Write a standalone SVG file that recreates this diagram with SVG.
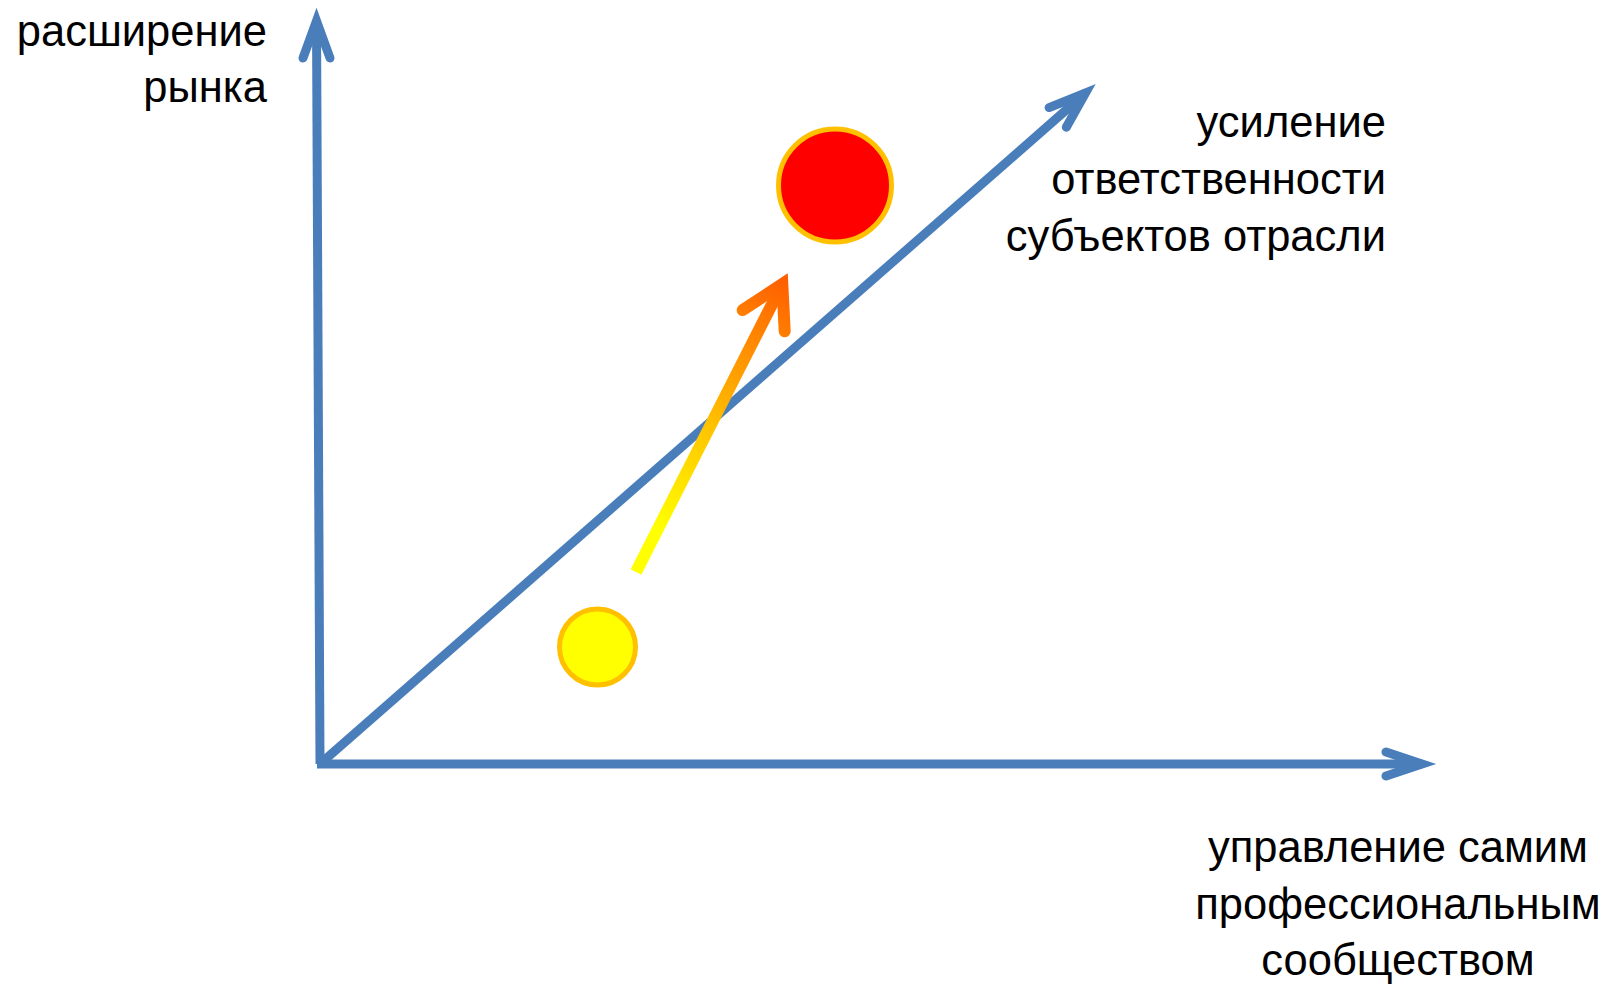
<svg xmlns="http://www.w3.org/2000/svg" width="1610" height="984" viewBox="0 0 1610 984">
<style>
.axis{fill:none;stroke:#4A7EBB;stroke-width:9;stroke-linecap:butt}
.head{fill:none;stroke:#4A7EBB;stroke-width:9;stroke-linecap:round;stroke-linejoin:miter;stroke-miterlimit:6}
.lbl{font-family:"Liberation Sans",Arial,sans-serif;font-size:43.5px;fill:#000}
</style>
<defs>
<linearGradient id="grad" gradientUnits="userSpaceOnUse" x1="636" y1="572" x2="788" y2="273">
<stop offset="0" stop-color="#FFFF00"/>
<stop offset="0.15" stop-color="#FFFF00"/>
<stop offset="0.5" stop-color="#FFC000"/>
<stop offset="1" stop-color="#FF5A00"/>
</linearGradient>
</defs>
<rect width="1610" height="984" fill="#fff"/>
<g id="connectors">
<g id="axis-y">
<path class="axis" d="M320,764 L316.5,21"/>
<path class="head" d="M303,58 L316.5,21 L330,58"/>
</g>
<g id="axis-x">
<path class="axis" d="M317,764 H1422"/>
<path class="head" d="M1386,752 L1422,764 L1386,776"/>
</g>
<g id="axis-diag">
<path class="axis" d="M320,764 L1085.5,93"/>
<path class="head" d="M1049.1,107.6 L1085.5,93 L1066.3,127.2"/>
</g>
<g id="growth-arrow">
<path d="M636,572 L782.3,284.1" fill="none" stroke="url(#grad)" stroke-width="12"/>
<path d="M742.7,310.1 L782.3,284.1 L784.7,331.3" fill="none" stroke="url(#grad)" stroke-width="12" stroke-linecap="round" stroke-linejoin="miter"/>
</g>
</g>
<g id="node-red">
<circle cx="835" cy="185.5" r="56.5" fill="#FF0000" stroke="#FFC000" stroke-width="5"/>
</g>
<g id="node-yellow">
<circle cx="597.5" cy="647" r="38" fill="#FFFF00" stroke="#FFC000" stroke-width="5"/>
</g>
<g id="label-y">
<text class="lbl" text-anchor="end" x="267" y="46">расширение</text>
<text class="lbl" text-anchor="end" x="267" y="102">рынка</text>
</g>
<g id="label-diag">
<text class="lbl" text-anchor="end" x="1386" y="137">усиление</text>
<text class="lbl" text-anchor="end" x="1386" y="194">ответственности</text>
<text class="lbl" text-anchor="end" x="1386" y="251">субъектов отрасли</text>
</g>
<g id="label-x">
<text class="lbl" text-anchor="middle" x="1398" y="862">управление самим</text>
<text class="lbl" text-anchor="middle" x="1398" y="919">профессиональным</text>
<text class="lbl" text-anchor="middle" x="1398" y="975">сообществом</text>
</g>
</svg>
